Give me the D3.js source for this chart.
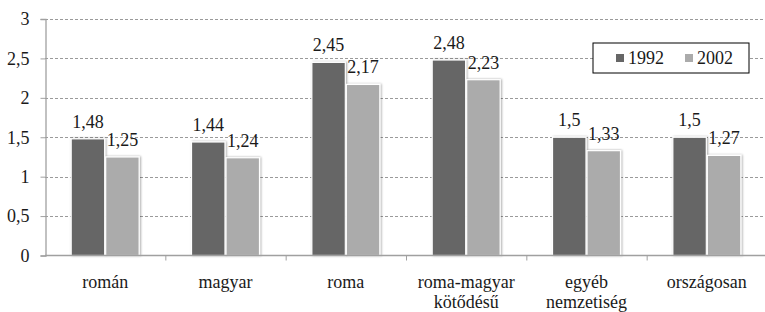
<!DOCTYPE html>
<html>
<head>
<meta charset="utf-8">
<script src="https://cdn.jsdelivr.net/npm/d3@7"></script>
</head>
<body style="margin:0">
<svg id="chart" width="765" height="312" font-family="Liberation Serif"></svg>
<script>
// data
const categories = ["román", "magyar", "roma", "roma-magyar\nkötődésű", "egyéb\nnemzetiség", "országosan"]
const series     = ["1992", "2002"]
const values1992 = [1.48, 1.44, 2.45, 2.48, 1.5, 1.5]
const values2002 = [1.25, 1.24, 2.17, 2.23, 1.33, 1.27]
const yTicks     = [0, 0.5, 1, 1.5, 2, 2.5, 3]
const colors     = ["#666666", "#ababab"]

const svg = d3.select("#chart")
const huLocale = d3.formatLocale({ decimal: ",", thousands: " ", grouping: [3], currency: ["", " Ft"] })
const fmt = huLocale.format("~r")

const plotLeft = 45, plotRight = 767, plotTop = 19, plotBottom = 255.5

// apply the serif face to a text selection
const serif = sel => sel.style("font-family", "'Liberation Serif'").attr("font-size", 18).attr("fill", "#1a1a1a")

const x0 = d3.scaleBand().domain(categories).range([plotLeft, plotRight]).padding(0)
const groupW = x0.bandwidth() * 0.565
const x1 = d3.scaleBand().domain(series).range([0, groupW]).paddingInner(0.03)
const y = d3.scaleLinear().domain([0, 3]).range([plotBottom, plotTop])

// shadow for bars
const defs = svg.append("defs")
const f = defs.append("filter").attr("id", "shadow").attr("x", "-20%").attr("y", "-20%").attr("width", "140%").attr("height", "140%")
f.append("feDropShadow").attr("dx", 1).attr("dy", 0).attr("stdDeviation", 1.3)
  .attr("flood-color", "#000").attr("flood-opacity", 0.35)

// gridlines
svg.append("g")
  .selectAll("line")
  .data(yTicks.filter(d => d > 0))
  .join("line")
  .attr("x1", plotLeft).attr("x2", plotRight)
  .attr("y1", d => Math.round(y(d)) + 0.5).attr("y2", d => Math.round(y(d)) + 0.5)
  .attr("stroke", "#9a9a9a").attr("stroke-dasharray", "3,2")

// y axis
const yAxis = svg.append("g")
  .attr("transform", `translate(${plotLeft + 0.5},0)`)
  .call(d3.axisLeft(y).tickValues(yTicks).tickFormat(fmt).tickSize(5).tickPadding(11))
yAxis.attr("font-family", "Liberation Serif").attr("font-size", 18)
yAxis.select(".domain").attr("stroke", "#a0a0a0").attr("stroke-width", 1.3)
yAxis.selectAll(".tick line").attr("stroke", "#a0a0a0")
yAxis.selectAll(".tick text").call(serif)

// bars
const groups = svg.append("g")
  .selectAll("g")
  .data(categories)
  .join("g")
  .attr("transform", d => `translate(${x0(d) + (x0.bandwidth() - groupW) / 2},0)`)

groups.selectAll("rect")
  .data((d, i) => [values1992[i], values2002[i]].map((v, j) => ({ s: series[j], v: v, j: j })))
  .join("rect")
  .attr("x", d => x1(d.s))
  .attr("y", d => y(d.v))
  .attr("width", x1.bandwidth())
  .attr("height", d => plotBottom - y(d.v))
  .attr("fill", d => colors[d.j])
  .attr("stroke", "#fff").attr("stroke-width", 1.2)
  .attr("filter", "url(#shadow)")

groups.selectAll("text.val")
  .data((d, i) => [values1992[i], values2002[i]].map((v, j) => ({ s: series[j], v: v })))
  .join("text")
  .attr("class", "val")
  .attr("x", d => x1(d.s) + x1.bandwidth() / 2)
  .attr("y", d => y(d.v) - 11)
  .attr("text-anchor", "middle")
  .call(serif)
  .text(d => fmt(d.v))

// x axis
const xAxisG = svg.append("g").attr("transform", `translate(0,${plotBottom})`)
xAxisG.append("line").attr("x1", plotLeft).attr("x2", plotRight).attr("stroke", "#a0a0a0").attr("stroke-width", 1.3)
xAxisG.selectAll("line.tick")
  .data(categories.slice(1))
  .join("line")
  .attr("class", "tick")
  .attr("x1", d => x0(d) + 0.5).attr("x2", d => x0(d) + 0.5)
  .attr("y1", 0).attr("y2", 5)
  .attr("stroke", "#a0a0a0")

const labels = xAxisG.selectAll("text")
  .data(categories)
  .join("text")
  .attr("text-anchor", "middle")
  .call(serif)
  .attr("transform", d => `translate(${x0(d) + x0.bandwidth() / 2},32.5)`)
labels.selectAll("tspan")
  .data(d => d.split("\n"))
  .join("tspan")
  .attr("x", 0)
  .attr("dy", (d, i) => i ? 19.5 : 0)
  .text(d => d)

// legend
const lg = svg.append("g").attr("transform", "translate(593,43)")
lg.append("rect").attr("width", 156).attr("height", 30).attr("fill", "#fff").attr("stroke", "#000")
series.forEach((s, i) => {
  const gx = 23 + i * 69
  lg.append("rect").attr("x", gx).attr("y", 11).attr("width", 8).attr("height", 8).attr("fill", colors[i])
  lg.append("text").attr("x", gx + 12).attr("y", 21).call(serif).text(s)
})
</script>
</body>
</html>
